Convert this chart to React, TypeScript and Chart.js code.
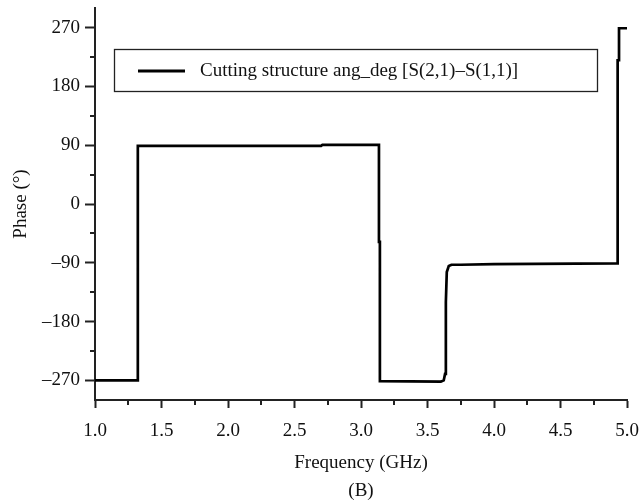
import React, { useEffect, useRef } from "react";
import { Chart, registerables } from "chart.js";

Chart.register(...registerables);

// Frequency (GHz) and phase (degrees)
const freqGHz = [
  1.0, 1.32, 1.32, 1.323, 1.323, 2.7, 2.71, 3.135, 3.135, 3.142, 3.142,
  3.6, 3.622, 3.632, 3.638, 3.645, 3.66, 3.68, 3.75, 4.0, 4.925, 4.925,
  4.932, 4.932, 4.94, 4.94, 5.0,
];
const phaseDeg = [
  -270, -270, -124, -124, 89, 89, 90.5, 90.5, -58, -58, -271,
  -272, -270, -260, -150, -104, -95, -93, -93, -92, -91, -40,
  -40, 220, 220, 269, 269,
];

const seriesLabel = "Cutting structure ang_deg [S(2,1)\u2013S(1,1)]";
const xTitle = "Frequency (GHz)";
const panelLabel = "(B)";
const yTitle = "Phase (\u00b0)";
const yMajorTicks = [-270, -180, -90, 0, 90, 180, 270];
const yMinorTicks = [-225, -135, -45, 45, 135, 225];
const xMinorTicks = [1.25, 1.75, 2.25, 2.75, 3.25, 3.75, 4.25, 4.75];

const FONT = "'Liberation Serif', 'Times New Roman', serif";

const decorPlugin = {
  id: "decor",
  afterDraw(chart: any) {
    const ctx = chart.ctx;
    const xs = chart.scales.x;
    const ys = chart.scales.y;
    const area = chart.chartArea;
    ctx.save();
    ctx.strokeStyle = "#222";
    ctx.lineWidth = 2;
    // minor ticks
    yMinorTicks.forEach((v) => {
      const y = Math.round(ys.getPixelForValue(v));
      ctx.beginPath();
      ctx.moveTo(area.left - 5, y);
      ctx.lineTo(area.left, y);
      ctx.stroke();
    });
    xMinorTicks.forEach((v) => {
      const x = Math.round(xs.getPixelForValue(v));
      ctx.beginPath();
      ctx.moveTo(x, area.bottom);
      ctx.lineTo(x, area.bottom + 5);
      ctx.stroke();
    });
    // legend box
    const bx = 114, by = 49, bw = 483, bh = 42;
    ctx.lineWidth = 1.3;
    ctx.strokeStyle = "#222";
    ctx.strokeRect(bx + 0.5, by + 0.5, bw, bh);
    ctx.lineWidth = 3;
    ctx.strokeStyle = "#000";
    ctx.beginPath();
    ctx.moveTo(138, by + bh / 2 + 1);
    ctx.lineTo(185, by + bh / 2 + 1);
    ctx.stroke();
    ctx.fillStyle = "#111";
    ctx.font = `19px ${FONT}`;
    ctx.textBaseline = "middle";
    ctx.textAlign = "left";
    ctx.fillText(seriesLabel, 200, by + bh / 2 + 1);
    ctx.restore();
  },
};

export default function App() {
  const ref = useRef<HTMLCanvasElement | null>(null);

  useEffect(() => {
    if (!ref.current) return;
    const points = freqGHz.map((f, i) => ({ x: f, y: phaseDeg[i] }));
    const chart = new Chart(ref.current, {
      type: "line",
      data: {
        datasets: [
          {
            label: seriesLabel,
            data: points,
            borderColor: "#000",
            borderWidth: 2.7,
            pointRadius: 0,
            tension: 0,
            fill: false,
          },
        ],
      },
      options: {
        responsive: false,
        animation: false,
        layout: { padding: { top: 8, right: 0, left: 0, bottom: 0 } },
        plugins: {
          legend: { display: false },
          tooltip: { enabled: false },
        },
        scales: {
          x: {
            type: "linear",
            min: 1,
            max: 5,
            afterFit: (s: any) => {
              s.height = 102;
              s.paddingLeft = 0;
              s.paddingRight = 13;
            },
            ticks: {
              stepSize: 0.5,
              color: "#111",
              font: { family: FONT, size: 19 },
              padding: 12,
              maxRotation: 0,
              callback: (v: any) => Number(v).toFixed(1),
            },
            grid: {
              drawOnChartArea: false,
              tickLength: 8,
              tickWidth: 2,
              tickColor: "#222",
            },
            border: { display: true, color: "#222", width: 2 },
            title: {
              display: true,
              text: [xTitle, panelLabel],
              color: "#111",
              font: { family: FONT, size: 19, lineHeight: "28px" },
              padding: { top: 0, bottom: -3 },
            },
          },
          y: {
            type: "linear",
            min: -300,
            max: 300,
            afterFit: (s: any) => {
              s.width = 95;
              s.paddingTop = 0;
              s.paddingBottom = 0;
            },
            afterBuildTicks: (s: any) => {
              s.ticks = yMajorTicks.map((v) => ({ value: v }));
            },
            ticks: {
              color: "#111",
              font: { family: FONT, size: 19 },
              padding: 5,
              callback: (v: any) => (Number(v) < 0 ? "\u2013" + Math.abs(Number(v)) : String(v)),
            },
            grid: {
              drawOnChartArea: false,
              tickLength: 10,
              tickWidth: 2,
              tickColor: "#222",
            },
            border: { display: true, color: "#222", width: 2 },
            title: {
              display: true,
              text: yTitle,
              color: "#111",
              font: { family: FONT, size: 19 },
              padding: { top: 10, bottom: 0 },
            },
          },
        },
      },
      plugins: [decorPlugin],
    });
    return () => chart.destroy();
  }, []);

  return (
    <div style={{ position: "absolute", left: 0, top: 0, width: 640, height: 502, background: "#fff" }}>
      <canvas ref={ref} width={640} height={502} style={{ display: "block" }} />
    </div>
  );
}
